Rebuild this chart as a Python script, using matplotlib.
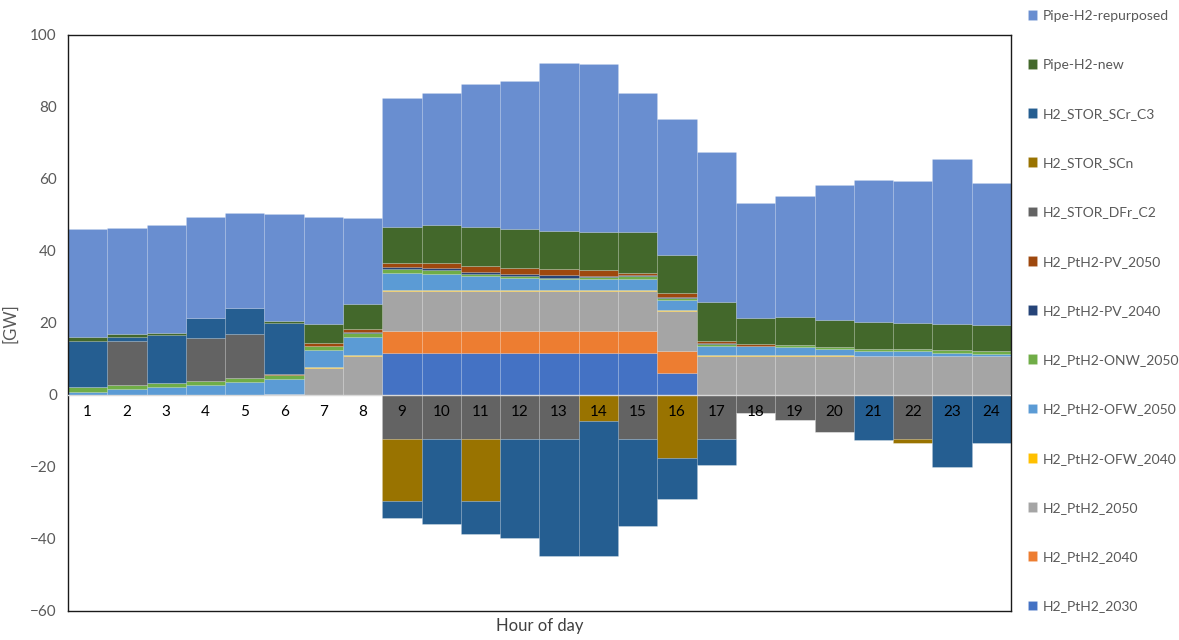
import matplotlib
matplotlib.use("Agg")
import matplotlib.pyplot as plt
import numpy as np

plt.rcParams['font.family'] = ['Lato', 'DejaVu Sans']

hours = list(range(1, 25))

# GW per hour, listed in stacking order (bottom first)
ptH2_2030 = [0, 0, 0, 0, 0, 0, 0, 0,
             11.6, 11.6, 11.6, 11.6, 11.6, 11.6, 11.6, 6.0,
             0, 0, 0, 0, 0, 0, 0, 0]
ptH2_2040 = [0, 0, 0, 0, 0, 0, 0, 0,
             6.1, 6.1, 6.1, 6.1, 6.1, 6.1, 6.1, 6.1,
             0, 0, 0, 0, 0, 0, 0, 0]
ptH2_2050 = [0, 0, 0, 0, 0, 0.3, 7.4, 10.7,
             11.1, 11.1, 11.1, 11.1, 11.1, 11.1, 11.1, 11.1,
             10.7, 10.7, 10.7, 10.7, 10.7, 10.7, 10.7, 10.7]
ofw_2040 = [0, 0, 0, 0, 0, 0, 0.5, 0.4,
            0.4, 0.4, 0.4, 0.4, 0.4, 0.4, 0.4, 0.3,
            0.3, 0.3, 0.3, 0.3, 0.1, 0.1, 0.1, 0.1]
ofw_2050 = [0.9, 1.6, 2.1, 2.7, 3.6, 4.1, 4.7, 5.0,
            4.8, 4.4, 3.8, 3.3, 3.1, 3.1, 3.1, 3.0,
            2.7, 2.5, 2.4, 1.8, 1.5, 1.3, 1.0, 0.7]
onw_2050 = [1.2, 1.2, 1.2, 1.2, 1.2, 1.1, 1.1, 1.1,
            1.0, 1.2, 0.6, 0.6, 0.3, 0.4, 0.7, 0.4,
            0.4, 0.2, 0.4, 0.4, 0.6, 0.6, 0.6, 0.7]
pv_2040 = [0, 0, 0, 0, 0, 0, 0, 0.2,
           0.6, 0.5, 0.5, 0.5, 0.6, 0.3, 0.3, 0.4,
           0.3, 0, 0, 0, 0, 0, 0, 0]
pv_2050 = [0, 0, 0, 0, 0, 0.3, 0.7, 0.9,
           1.1, 1.3, 1.7, 1.6, 1.7, 1.6, 0.5, 0.9,
           0.6, 0.5, 0, 0, 0, 0, 0, 0]
stor_dfr_c2 = [0, 12.2, 0, 12.0, 12.1, 0, 0, 0,
               -12.3, -12.3, -12.3, -12.3, -12.3, 0, -12.3, 0,
               -12.3, -5.1, -7.0, -10.4, 0, -12.3, 0, 0]
stor_scn = [0, 0, 0, 0, 0, 0, 0, 0,
            -17.2, 0, -17.2, 0, 0, -7.3, 0, -17.4,
            0, 0, 0, 0, 0, -1.0, 0, 0]
stor_scr_c3 = [13.0, 1.0, 13.3, 5.4, 7.4, 14.2, 0, 0,
               -4.6, -23.4, -9.0, -27.4, -32.5, -37.5, -24.0, -11.4,
               -7.1, 0, 0, 0, -12.4, 0, -19.9, -13.2]
pipe_new = [1.0, 0.9, 0.6, 0, 0, 0.5, 5.3, 7.0,
            9.9, 10.6, 10.8, 10.8, 10.6, 10.6, 11.4, 10.6,
            10.7, 7.3, 8.0, 7.5, 7.3, 7.3, 7.4, 7.3]
pipe_repurposed = [29.9, 29.4, 30.0, 28.1, 26.2, 29.7, 29.7, 23.8,
                   36.0, 36.6, 39.9, 41.3, 46.7, 46.8, 38.6, 37.8,
                   41.7, 31.9, 33.5, 37.5, 39.4, 39.4, 45.7, 39.4]

series = [
    ("H2_PtH2_2030", ptH2_2030, "#4472C4"),
    ("H2_PtH2_2040", ptH2_2040, "#ED7D31"),
    ("H2_PtH2_2050", ptH2_2050, "#A5A5A5"),
    ("H2_PtH2-OFW_2040", ofw_2040, "#FFC000"),
    ("H2_PtH2-OFW_2050", ofw_2050, "#5B9BD5"),
    ("H2_PtH2-ONW_2050", onw_2050, "#70AD47"),
    ("H2_PtH2-PV_2040", pv_2040, "#264478"),
    ("H2_PtH2-PV_2050", pv_2050, "#9E480E"),
    ("H2_STOR_DFr_C2", stor_dfr_c2, "#636363"),
    ("H2_STOR_SCn", stor_scn, "#997300"),
    ("H2_STOR_SCr_C3", stor_scr_c3, "#255E91"),
    ("Pipe-H2-new", pipe_new, "#43682B"),
    ("Pipe-H2-repurposed", pipe_repurposed, "#698ED0"),
]

fig = plt.figure(figsize=(11.79, 6.40), dpi=100)
ax = fig.add_axes([68 / 1179, 1 - 611 / 640, 943 / 1179, 576 / 640])

x = np.arange(len(hours))
pos_base = np.zeros(len(hours))
neg_base = np.zeros(len(hours))
handles = []
for name, vals, color in series:
    v = np.array(vals, dtype=float)
    pos = np.where(v > 0, v, 0)
    neg = np.where(v < 0, v, 0)
    h = ax.bar(x, pos, width=1.0, bottom=pos_base, color=color,
               edgecolor=(1, 1, 1, 0.2), linewidth=0.4, label=name)
    ax.bar(x, neg, width=1.0, bottom=neg_base, color=color,
           edgecolor=(1, 1, 1, 0.2), linewidth=0.4)
    pos_base += pos
    neg_base += neg
    handles.append(h)

ax.axhline(0, color="#D9D9D9", linewidth=1.0, zorder=3)

ax.set_xlim(-0.5, len(hours) - 0.5)
ax.set_ylim(-60, 100)
ax.set_yticks(np.arange(-60, 101, 20))
ax.tick_params(axis="y", length=0, labelsize=11, labelcolor="#595959", pad=8)
ax.set_xticks([])
for spine in ax.spines.values():
    spine.set_color("#1a1a1a")
    spine.set_linewidth(1.0)

# hour labels sit just under the zero line
for i, hr in enumerate(hours):
    ax.text(i, -4.8, str(hr), ha="center", va="center", fontsize=11,
            color="black", zorder=4)

ax.set_ylabel("[GW]", fontsize=12, color="#595959")
ax.yaxis.set_label_coords(-0.053, 0.5)
ax.set_xlabel("Hour of day", fontsize=12, color="#404040", labelpad=5)

fig.legend(handles[::-1], [s[0] for s in series][::-1],
           loc="upper left", bbox_to_anchor=(1022 / 1179, 1 - 4 / 640),
           frameon=False, fontsize=10, labelcolor="#595959",
           handlelength=0.7, handleheight=0.7, handletextpad=0.4,
           labelspacing=2.68, borderaxespad=0)

fig.savefig("out.png", dpi=100)
